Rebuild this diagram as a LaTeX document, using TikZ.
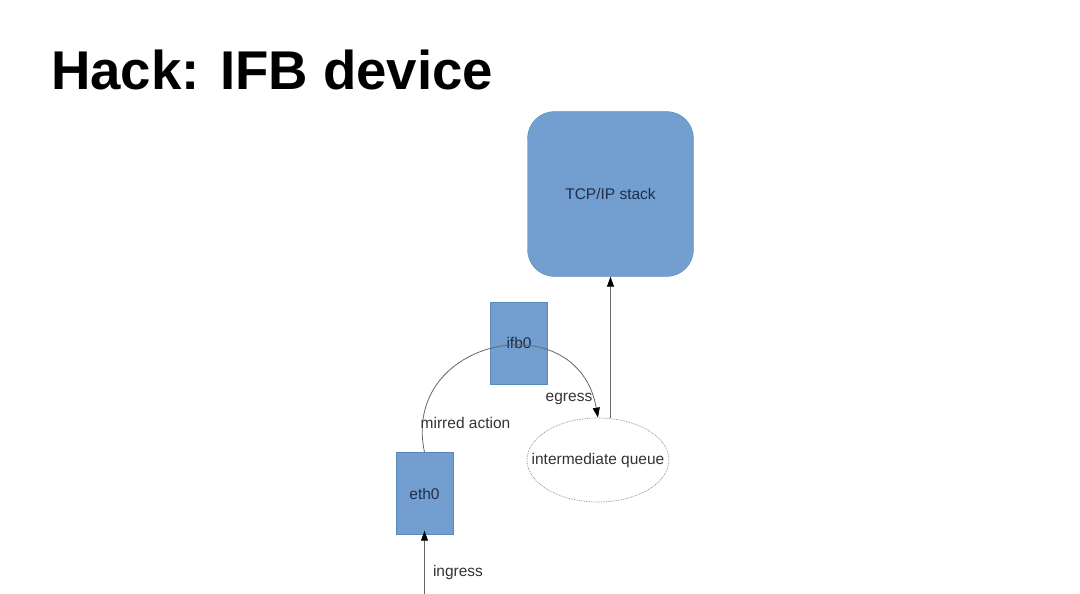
\documentclass[tikz,border=0pt]{standalone}
\usepackage{fontspec}
\setmainfont{Liberation Sans}
\usetikzlibrary{arrows.meta,positioning,shapes.geometric}

\definecolor{boxblue}{HTML}{729FCF}
\definecolor{boxedge}{HTML}{5A87BC}
\definecolor{boxtext}{HTML}{1F2D4A}
\definecolor{labeltext}{HTML}{333333}
\definecolor{linegray}{HTML}{666666}

\begin{document}
\begin{tikzpicture}[
  x=1pt, y=1pt,
  font=\fontsize{15.5}{18}\selectfont,
  >={Triangle[length=10pt,width=7pt,color=black]},
  box/.style   ={draw=boxedge, line width=0.4pt, fill=boxblue, text=boxtext, inner sep=0pt},
  dev/.style   ={box, minimum width=57pt, minimum height=82pt},
  stack/.style ={box, rounded corners=27pt, minimum width=166pt, minimum height=165pt},
  queue/.style ={ellipse, draw=gray!95, densely dotted, line width=0.7pt, text=labeltext,
                 minimum width=142pt, minimum height=84pt, inner xsep=-17pt, inner ysep=0pt},
  flow/.style  ={->, draw=linegray, line width=0.8pt},
  lbl/.style   ={text=labeltext, inner sep=0pt},
]

% ---------- Canvas ----------
\fill[white] (0,0) rectangle (1080,-594);
\useasboundingbox (0,0) rectangle (1080,-594);

% ---------- Title ----------
\node[anchor=base west, inner sep=0pt, font=\fontsize{54.6}{60}\selectfont\bfseries] (title)
  at (51,-90) {Hack: IFB device};

% ---------- Blocks ----------
\node[stack] (tcp)   at (610.5,-194) {TCP/IP stack};
\node[dev]   (ifb)   at (519,-343)   {ifb0};
\node[dev]   (eth)   at (424.5,-493.5) {eth0};
\node[queue] (queue) at (598,-460)   {intermediate queue};

% ---------- Connectors ----------
\coordinate (wire) at (eth.south |- 0,-594);
\draw[flow, shorten >=-4pt] (wire) -- (eth.south);
\draw[flow] (tcp.south |- queue.north) -- (tcp.south);
\draw[flow] (eth.north) to[out=102, in=100, looseness=1.7] (queue.north);

% ---------- Labels ----------
\node[lbl] (ingress) at (458,-572)   {ingress};
\node[lbl] (mirred)  at (465.5,-423) {mirred action};
\node[lbl] (egress)  at (569,-399)   {egress};

\end{tikzpicture}
\end{document}
